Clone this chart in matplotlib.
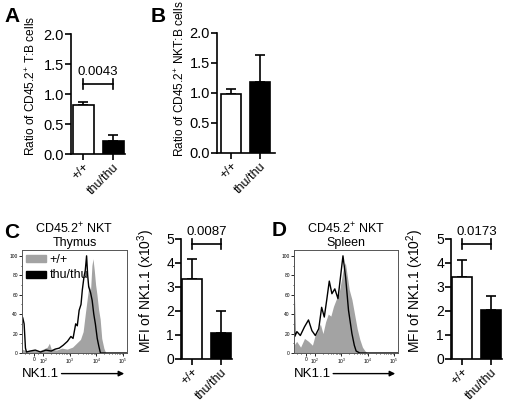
import matplotlib
matplotlib.use('Agg')
import matplotlib.pyplot as plt
from matplotlib.patches import Patch
import numpy as np

plt.rcParams['font.family'] = ['Liberation Sans', 'DejaVu Sans']
plt.rcParams['mathtext.fontset'] = 'custom'
plt.rcParams['mathtext.rm'] = 'Liberation Sans'
plt.rcParams['mathtext.it'] = 'Liberation Sans:italic'

# bar chart data
groups = ['+/+', 'thu/thu']
a_mean = [0.82, 0.21]
a_err = [0.05, 0.11]
b_mean = [0.99, 1.18]
b_err = [0.07, 0.46]
c_mean = [3.33, 1.07]
c_err = [0.83, 0.92]
d_mean = [3.40, 2.05]
d_err = [0.72, 0.57]
pvals = {'A': '0.0043', 'C': '0.0087', 'D': '0.0173'}

# histogram data (x in display decades, y = % of max)
c_wt_x = [1.2, 1.4, 1.6, 1.8, 2.0, 2.15, 2.23, 2.3, 2.5, 2.7, 2.9, 3.1, 3.25, 3.4, 3.5, 3.58,
          3.65, 3.72, 3.78, 3.83, 3.87, 3.92, 3.97, 4.02, 4.08, 4.14, 4.2, 4.28, 4.35, 5.15]
c_wt_y = [4, 2, 3, 2, 4, 6, 10, 4, 3, 5, 4, 6, 10, 14, 22, 40,
          55, 70, 65, 90, 97, 85, 70, 60, 45, 35, 15, 5, 0, 0]
c_ko_x = [1.2, 1.23, 1.28, 1.33, 1.37, 1.5, 1.7, 1.9, 2.1, 2.3, 2.45, 2.6, 2.75, 2.91, 3.04,
          3.12, 3.22, 3.28, 3.35, 3.42, 3.47, 3.53, 3.58, 3.63, 3.67, 3.71, 3.78, 3.84, 3.9,
          3.96, 4.03, 4.09, 4.15, 4.5, 5.15]
c_ko_y = [38, 36, 30, 5, 1, 2, 3, 1, 3, 2, 4, 5, 8, 12, 17,
          15, 30, 28, 44, 50, 65, 78, 85, 100, 80, 68, 62, 54, 40,
          30, 15, 7, 0, 0, 0]
d_wt_x = [1.2, 1.3, 1.45, 1.6, 1.75, 1.9, 2.0, 2.1, 2.2, 2.3, 2.4, 2.5, 2.6, 2.7, 2.8,
          2.9, 3.0, 3.08, 3.15, 3.22, 3.3, 3.4, 3.5, 3.6, 3.7, 3.8, 3.9, 4.0, 5.15]
d_wt_y = [8, 12, 6, 15, 12, 8, 18, 22, 30, 20, 32, 40, 38, 48, 55,
          60, 75, 88, 93, 80, 65, 55, 40, 25, 14, 6, 2, 0, 0]
d_ko_x = [1.2, 1.21, 1.23, 1.31, 1.44, 1.6, 1.75, 1.88, 2.01, 2.14, 2.25, 2.35, 2.44, 2.54,
          2.64, 2.75, 2.87, 3.06, 3.16, 3.27, 3.4, 3.49, 3.56, 3.7, 5.15]
d_ko_y = [110, 60, 17, 22, 18, 27, 34, 23, 18, 25, 47, 37, 54, 74,
          61, 66, 56, 100, 78, 44, 20, 8, 2, 0, 0]

hist_ticks = [1.65, 2, 3, 4, 5]
hist_ticklabels = ['0', '$10^2$', '$10^3$', '$10^4$', '$10^5$']

W, H = 510, 403
fig = plt.figure(figsize=(W / 100, H / 100), dpi=100)


def px_axes(x0, y0, x1, y1):
    return fig.add_axes([x0 / W, 1 - y1 / H, (x1 - x0) / W, (y1 - y0) / H])


def bar_panel(ax, mean, err, ylim, yticks, yfmt, ylabel, xlim, fs_tick, fs_lab, lab_xy,
              p=None, py=None):
    x = np.arange(2)
    ax.bar(x, mean, width=0.7, color=['white', 'black'], edgecolor='black', linewidth=1.2, zorder=3)
    ax.errorbar(x, mean, yerr=[[0, 0], err], fmt='none', ecolor='black', elinewidth=1.2,
                capsize=3.3, capthick=1.2, zorder=2)
    ax.set_ylim(*ylim)
    ax.set_xlim(*xlim)
    ax.set_yticks(yticks)
    ax.set_yticklabels([yfmt % v for v in yticks], fontsize=fs_tick)
    ax.set_xticks(x)
    ax.set_xticklabels(groups, rotation=45, ha='right', rotation_mode='anchor', fontsize=9)
    ax.set_ylabel(ylabel, fontsize=fs_lab)
    ax.yaxis.set_label_coords(*lab_xy)
    for s in ['top', 'right']:
        ax.spines[s].set_visible(False)
    for s in ['left', 'bottom']:
        ax.spines[s].set_linewidth(1.2)
    ax.tick_params(width=1.2, length=4, pad=1)
    if p is not None:
        h = (ylim[1] - ylim[0]) * 0.04
        ax.plot([0, 1], [py, py], color='black', lw=1.2, clip_on=False)
        ax.plot([0, 0], [py - h, py + h], color='black', lw=1.2, clip_on=False)
        ax.plot([1, 1], [py - h, py + h], color='black', lw=1.2, clip_on=False)
        ax.text(0.5, py + h * 1.3, p, ha='center', va='bottom', fontsize=9.5)


def hist_panel(ax, wx, wy, kx, ky, title, legend=False):
    ax.fill_between(wx, wy, 0, color='#a3a3a3', lw=0)
    ax.plot(kx, ky, color='black', lw=1.0)
    ax.set_xlim(1.2, 5.15)
    ax.set_ylim(0, 106)
    ax.set_yticks([0, 20, 40, 60, 80, 100])
    ax.set_yticklabels(['0', '20', '40', '60', '80', '100'], fontsize=3.5)
    ax.set_yticks(np.arange(0, 106, 10), minor=True)
    ax.set_xticks(hist_ticks)
    ax.set_xticklabels(hist_ticklabels, fontsize=3.5)
    minor = [np.log10(m) + d for d in range(2, 5) for m in range(2, 10)]
    ax.set_xticks(minor + [1.3, 1.45, 1.8], minor=True)
    ax.tick_params(length=2, width=0.6, pad=1)
    ax.tick_params(which='minor', length=1, width=0.5)
    for s in ax.spines.values():
        s.set_linewidth(0.7)
        s.set_color('#555555')
    ax.set_title(title, fontsize=9, pad=3, linespacing=1.1)
    if legend:
        handles = [Patch(color='#a3a3a3'), Patch(color='black')]
        ax.legend(handles, groups, loc='upper left', frameon=False, fontsize=9,
                  handlelength=1.6, handleheight=0.5, handletextpad=0.3,
                  borderaxespad=0.1, labelspacing=0.3, borderpad=0.2)
    ax.annotate('', xy=(1.0, -0.2), xytext=(0.35, -0.2), xycoords='axes fraction',
                arrowprops=dict(arrowstyle='-|>', color='black', lw=1.0, mutation_scale=8))
    ax.text(0.0, -0.2, 'NK1.1', transform=ax.transAxes, ha='left', va='center', fontsize=9.5)


axA = px_axes(71, 34, 125, 154)
bar_panel(axA, a_mean, a_err, (0, 2.0), [0, 0.5, 1.0, 1.5, 2.0], '%.1f',
          'Ratio of CD45.2$^{+}$ T:B cells', (-0.4, 1.4), 10.5, 8.6, (-0.61, 0.57),
          pvals['A'], 1.17)

axB = px_axes(217, 33, 275, 153)
bar_panel(axB, b_mean, b_err, (0, 2.0), [0, 0.5, 1.0, 1.5, 2.0], '%.1f',
          'Ratio of CD45.2$^{+}$ NKT:B cells', (-0.48, 1.52), 10.5, 8.6, (-0.52, 0.62))

axC = px_axes(22, 250, 127, 353)
hist_panel(axC, c_wt_x, c_wt_y, c_ko_x, c_ko_y, 'CD45.2$^{+}$ NKT\nThymus', legend=True)

axC2 = px_axes(181, 239, 232, 359)
bar_panel(axC2, c_mean, c_err, (0, 5), [0, 1, 2, 3, 4, 5], '%d',
          'MFI of NK1.1 (x10$^{3}$)', (-0.38, 1.38), 10, 10, (-0.47, 0.57), pvals['C'], 4.79)

axD = px_axes(294, 250, 398, 353)
hist_panel(axD, d_wt_x, d_wt_y, d_ko_x, d_ko_y, 'CD45.2$^{+}$ NKT\nSpleen')

axD2 = px_axes(451, 239, 502, 359)
bar_panel(axD2, d_mean, d_err, (0, 5), [0, 1, 2, 3, 4, 5], '%d',
          'MFI of NK1.1 (x10$^{2}$)', (-0.4, 1.4), 10, 10, (-0.49, 0.57), pvals['D'], 4.79)

for letter, x, y in [('A', 4, 16), ('B', 151, 16), ('C', 4, 232), ('D', 272, 231)]:
    fig.text(x / W, 1 - y / H, letter, fontsize=15, fontweight='bold', ha='left', va='center')

fig.savefig('out.png', dpi=100)
